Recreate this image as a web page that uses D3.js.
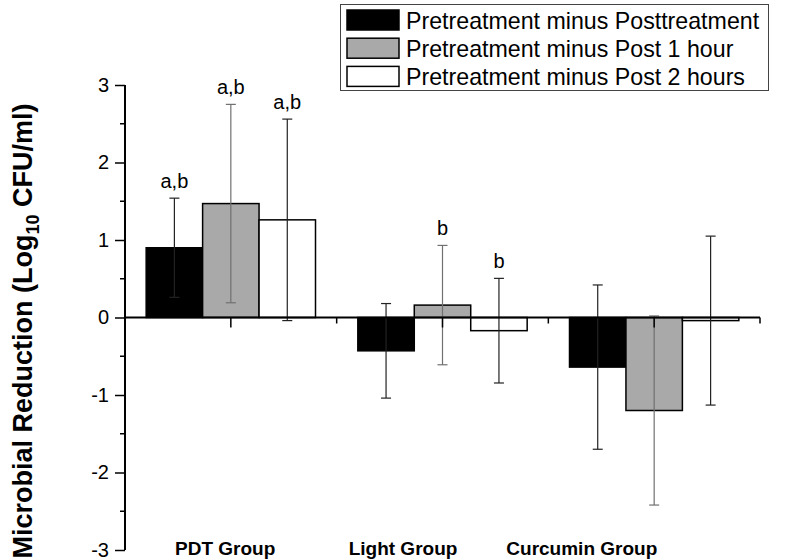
<!DOCTYPE html>
<html>
<head>
<meta charset="utf-8">
<script src="https://cdn.jsdelivr.net/npm/d3@7/dist/d3.min.js"></script>
<style>
  html, body { margin: 0; padding: 0; background: #fff; }
  svg { display: block; font-family: "Liberation Sans", Arial, sans-serif; }
</style>
</head>
<body>
<svg id="chart" width="792" height="560"></svg>
<script>
// ---------- data ----------
const categories = ["PDT Group", "Light Group", "Curcumin Group"];
const seriesNames = [
  "Pretreatment minus Posttreatment",
  "Pretreatment minus Post 1 hour",
  "Pretreatment minus Post 2 hours"
];
const posttreatment = [0.90, -0.43, -0.64];
const post1hour     = [1.47, 0.16, -1.20];
const post2hours    = [1.26, -0.17, -0.04];
const errPost       = [0.64, 0.61, 1.06];
const err1hour      = [1.28, 0.77, 1.22];
const err2hours     = [1.30, 0.675, 1.09];
const sigPost       = ["a,b", "", ""];
const sig1hour      = ["a,b", "b", ""];
const sig2hours     = ["a,b", "b", ""];
const yTicks = [-3, -2, -1, 0, 1, 2, 3];

// ---------- layout / style ----------
const fills = ["#000000", "#a9a9a9", "#ffffff"];
const errColors = ["#222222", "#707070", "#222222"];
const pL = 125, pR = 760, pT = 85, pB = 550;
const catLabelOffsets = [50, 12, -42]; // px from band start

const svg = d3.select("#chart");

const x = d3.scaleBand().domain(categories).range([pL, pR]).padding(0);
const bw = x.bandwidth();
const xs = d3.scaleBand().domain(d3.range(3)).range([bw * 0.1, bw * 0.9]).padding(0);
const y = d3.scaleLinear().domain([-3, 3]).range([pB, pT]);

const values = [posttreatment, post1hour, post2hours];
const errs = [errPost, err1hour, err2hours];
const sigs = [sigPost, sig1hour, sig2hours];

const rows = [];
categories.forEach((c, ci) => {
  values.forEach((v, si) => {
    rows.push({ c, ci, si, v: v[ci], e: errs[si][ci], s: sigs[si][ci] });
  });
});

// bars
svg.append("g").selectAll("rect").data(rows).join("rect")
  .attr("x", d => x(d.c) + xs(d.si))
  .attr("width", xs.bandwidth())
  .attr("y", d => y(Math.max(0, d.v)))
  .attr("height", d => Math.abs(y(d.v) - y(0)))
  .attr("fill", d => fills[d.si])
  .attr("stroke", "#000")
  .attr("stroke-width", 1.5);

// error bars
const cx = d => x(d.c) + xs(d.si) + xs.bandwidth() / 2;
const eg = svg.append("g").selectAll("g").data(rows).join("g")
  .attr("stroke", d => errColors[d.si]).attr("stroke-width", 1.2);
eg.append("line")
  .attr("x1", cx).attr("x2", cx)
  .attr("y1", d => y(d.v + d.e)).attr("y2", d => y(d.v - d.e));
[1, -1].forEach(sgn => {
  eg.append("line")
    .attr("x1", d => cx(d) - 5).attr("x2", d => cx(d) + 5)
    .attr("y1", d => y(d.v + sgn * d.e)).attr("y2", d => y(d.v + sgn * d.e));
});

// significance labels
svg.append("g").selectAll("text").data(rows.filter(d => d.s)).join("text")
  .attr("x", cx)
  .attr("y", d => y(d.v + d.e) - 10)
  .attr("text-anchor", "middle")
  .attr("font-size", 20)
  .attr("fill", "#000")
  .text(d => d.s);

// y axis
const yAxis = d3.axisLeft(y).tickValues(yTicks).tickSize(10).tickPadding(6)
  .tickFormat(d => String(d));
const ya = svg.append("g").attr("transform", `translate(${pL},0)`).call(yAxis);
ya.select(".domain").attr("stroke-width", 2).attr("d", `M0,${pT}V${pB}`);
ya.selectAll(".tick line").attr("stroke-width", 1.5);
ya.selectAll(".tick text").attr("font-size", 20).attr("font-family", "Liberation Sans, Arial, sans-serif").attr("fill", "#000");
// minor y ticks
const minorY = d3.range(-2.5, 3, 1);
svg.append("g").selectAll("line").data(minorY).join("line")
  .attr("x1", pL - 5).attr("x2", pL)
  .attr("y1", d => y(d)).attr("y2", d => y(d))
  .attr("stroke", "#000").attr("stroke-width", 1.5);

// x axis at zero
const xAxis = d3.axisBottom(x).tickSize(10).tickFormat("");
const xa = svg.append("g").attr("transform", `translate(0,${y(0)})`).call(xAxis);
xa.select(".domain").attr("stroke-width", 2).attr("d", `M${pL},0H${pR}`);
xa.selectAll(".tick line").attr("stroke-width", 1.5);
// minor x ticks at band boundaries
const minorX = categories.map(c => x(c)).concat([pR]).slice(1);
svg.append("g").selectAll("line").data(minorX).join("line")
  .attr("x1", d => d).attr("x2", d => d)
  .attr("y1", y(0)).attr("y2", y(0) + 6)
  .attr("stroke", "#000").attr("stroke-width", 1.5);

// category labels
svg.append("g").selectAll("text").data(categories).join("text")
  .attr("x", (c, i) => x(c) + catLabelOffsets[i])
  .attr("y", 555)
  .attr("font-size", 19)
  .attr("font-weight", "bold")
  .attr("fill", "#000")
  .text(c => c);

// y axis title
const yt = svg.append("text")
  .attr("transform", `translate(32,${331}) rotate(-90)`)
  .attr("text-anchor", "middle")
  .attr("font-size", 27)
  .attr("font-weight", "bold")
  .attr("fill", "#000");
yt.append("tspan").text("Microbial Reduction (Log");
yt.append("tspan").attr("font-size", 18).attr("dy", 7).text("10");
yt.append("tspan").attr("dy", -7).text(" CFU/ml)");

// legend
const lg = svg.append("g");
lg.append("rect").attr("x", 340.5).attr("y", 4.5).attr("width", 428).attr("height", 86)
  .attr("fill", "#fff").attr("stroke", "#444").attr("stroke-width", 1);
const li = lg.selectAll("g.item").data(seriesNames).join("g")
  .attr("class", "item")
  .attr("transform", (d, i) => `translate(347,${10 + i * 28.2})`);
li.append("rect").attr("width", 52).attr("height", 20)
  .attr("fill", (d, i) => fills[i]).attr("stroke", "#000").attr("stroke-width", 1.5);
li.append("text").attr("x", 59).attr("y", 18.5)
  .attr("font-size", 23.2).attr("fill", "#000").text(d => d);
</script>
</body>
</html>
